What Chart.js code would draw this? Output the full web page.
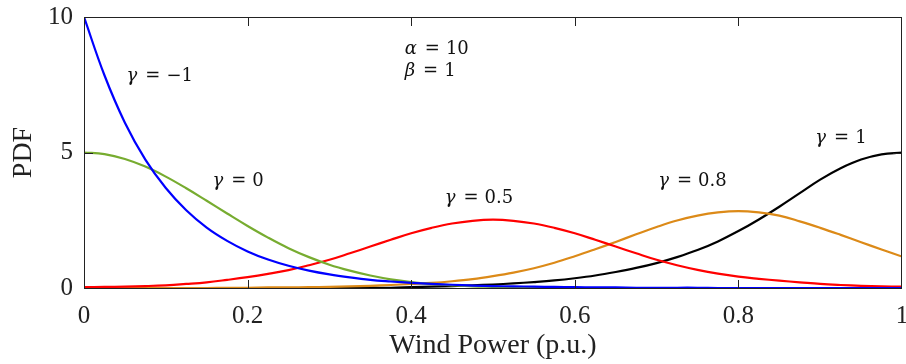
<!DOCTYPE html>
<html>
<head>
<meta charset="utf-8">
<script src="https://cdn.jsdelivr.net/npm/chart.js@4/dist/chart.umd.min.js"></script>
<style>
  html, body { margin: 0; padding: 0; background: #fff; }
  #wrap { position: relative; width: 906px; height: 364px; }
  canvas { display: block; }
  .edge { position: absolute; background: #222222; pointer-events: none; }
</style>
</head>
<body>
<div id="wrap"><canvas id="c" width="906" height="364"></canvas></div>
<script>
// Wind power (p.u.) sample positions
const windPower = [
  0, 0.025, 0.05, 0.075, 0.1, 0.125, 0.15, 0.175, 0.2, 0.225,
  0.25, 0.275, 0.3, 0.325, 0.35, 0.375, 0.4, 0.425, 0.45, 0.475,
  0.5, 0.525, 0.55, 0.575, 0.6, 0.625, 0.65, 0.675, 0.7, 0.725,
  0.75, 0.775, 0.8, 0.825, 0.85, 0.875, 0.9, 0.925, 0.95, 0.975, 1
];

// PDF values for each gamma
const pdfGammaMinus1 = [
  10.00, 7.85, 6.10, 4.74, 3.69, 2.87, 2.23, 1.74, 1.35, 1.05,
  0.82, 0.64, 0.50, 0.39, 0.30, 0.24, 0.19, 0.15, 0.12, 0.09,
  0.07, 0.06, 0.05, 0.04, 0.03, 0.02, 0.02, 0.01, 0.01, 0.01,
  0.01, 0.00, 0.00, 0.00, 0.00, 0.00, 0.00, 0.00, 0.00, 0.00, 0.00
];
const pdfGamma0 = [
  5.00, 4.94, 4.76, 4.48, 4.11, 3.68, 3.22, 2.75, 2.29, 1.86,
  1.47, 1.14, 0.86, 0.64, 0.46, 0.32, 0.22, 0.15, 0.10, 0.06,
  0.04, 0.02, 0.01, 0.01, 0.00, 0.00, 0.00, 0.00, 0.00, 0.00,
  0.00, 0.00, 0.00, 0.00, 0.00, 0.00, 0.00, 0.00, 0.00, 0.00, 0.00
];
const pdfGamma05 = [
  0.03, 0.04, 0.05, 0.07, 0.10, 0.15, 0.21, 0.30, 0.40, 0.52,
  0.66, 0.84, 1.04, 1.28, 1.53, 1.78, 2.02, 2.22, 2.38, 2.48,
  2.52, 2.48, 2.38, 2.22, 2.02, 1.78, 1.53, 1.28, 1.04, 0.84,
  0.67, 0.53, 0.42, 0.34, 0.27, 0.21, 0.15, 0.11, 0.08, 0.06, 0.05
];
const pdfGamma08 = [
  0.00, 0.00, 0.00, 0.00, 0.00, 0.00, 0.00, 0.01, 0.01, 0.02,
  0.02, 0.03, 0.04, 0.06, 0.08, 0.11, 0.15, 0.19, 0.25, 0.33,
  0.44, 0.57, 0.73, 0.93, 1.17, 1.43, 1.70, 1.98, 2.25, 2.49,
  2.67, 2.79, 2.84, 2.79, 2.67, 2.46, 2.22, 1.96, 1.69, 1.42, 1.16
];
const pdfGamma1 = [
  0.00, 0.00, 0.00, 0.00, 0.00, 0.00, 0.00, 0.00, 0.00, 0.00,
  0.00, 0.00, 0.00, 0.00, 0.01, 0.01, 0.03, 0.05, 0.07, 0.10,
  0.13, 0.17, 0.22, 0.28, 0.36, 0.46, 0.59, 0.74, 0.92, 1.14,
  1.40, 1.72, 2.10, 2.53, 3.00, 3.50, 4.00, 4.42, 4.74, 4.93, 5.00
];

// Axis ticks
const xTicks = [0, 0.2, 0.4, 0.6, 0.8, 1];
const yTicks = [0, 5, 10];

// Curve annotations: [symbol, value, x anchor, y anchor] in data units
const annotations = [
  ['γ', '\u22121', 0.052, 7.8],
  ['γ', '0', 0.157, 3.93],
  ['γ', '0.5', 0.441, 3.32],
  ['γ', '0.8', 0.702, 3.93],
  ['γ', '1', 0.894, 5.53],
  ['α', '10', 0.392, 8.79],
  ['β', '1', 0.392, 7.99]
];

const axisColor = '#222222';
const pts = (ys) => windPower.map((x, i) => ({ x, y: ys[i] }));

const series = [
  { label: 'γ = −1', data: pdfGammaMinus1, color: '#0000FF' },
  { label: 'γ = 0', data: pdfGamma0, color: '#77AC30' },
  { label: 'γ = 0.5', data: pdfGamma05, color: '#FF0000' },
  { label: 'γ = 0.8', data: pdfGamma08, color: '#DC8A18' },
  { label: 'γ = 1', data: pdfGamma1, color: '#000000' }
];

function drawAnnotations(chart) {
  const ctx = chart.ctx;
  const xs = chart.scales.x, ys = chart.scales.y;
  const size = 18;
  ctx.save();
  ctx.fillStyle = '#111';
  ctx.textBaseline = 'middle';
  ctx.textAlign = 'left';
  for (const [sym, val, ax, ay] of annotations) {
    let px = xs.getPixelForValue(ax);
    const py = ys.getPixelForValue(ay);
    ctx.font = 'italic ' + size + 'px "DejaVu Serif"';
    ctx.fillText(sym, px, py);
    px += ctx.measureText(sym).width + 8;
    ctx.font = size + 'px "DejaVu Serif"';
    ctx.fillText('=', px, py);
    px += ctx.measureText('=').width + 6;
    ctx.fillText(val, px, py);
  }
  ctx.restore();
}

// Edges of the plot box and the inward tick marks, in pixels from the axes
function boxGeometry(chart) {
  const xs = chart.scales.x, ys = chart.scales.y;
  const L = Math.round(xs.getPixelForValue(xTicks[0]));
  const R = Math.round(xs.getPixelForValue(xTicks[xTicks.length - 1])) - 1;
  const T = Math.round(ys.getPixelForValue(yTicks[yTicks.length - 1]));
  const B = Math.round(ys.getPixelForValue(yTicks[0]));
  const len = 8;
  const rects = [
    [L, T, R - L + 1, 1], [L, B, R - L + 1, 1],
    [L, T, 1, B - T + 1], [R, T, 1, B - T + 1]
  ];
  for (const v of xTicks) {
    const px = Math.min(R, Math.round(xs.getPixelForValue(v)));
    rects.push([px, B - len, 1, len], [px, T + 1, 1, len]);
  }
  for (const v of yTicks) {
    const py = Math.min(B, Math.round(ys.getPixelForValue(v)));
    rects.push([L + 1, py, len, 1], [R - len, py, len, 1]);
  }
  return rects;
}

const plotDecor = {
  id: 'plotDecor',
  afterDraw(chart) {
    const ctx = chart.ctx;
    ctx.save();
    ctx.fillStyle = axisColor;
    for (const [x, y, w, h] of boxGeometry(chart)) ctx.fillRect(x, y, w, h);
    ctx.restore();
    drawAnnotations(chart);
  }
};

const serifFont = (size) => ({ family: '"Liberation Serif"', size });

const chart = new Chart(document.getElementById('c'), {
  type: 'line',
  data: {
    datasets: series.map((s, i) => ({
      label: s.label,
      data: pts(s.data),
      borderColor: s.color,
      backgroundColor: s.color,
      borderWidth: 2.2,
      pointRadius: 0,
      tension: 0.4,
      fill: false,
      order: i
    }))
  },
  options: {
    responsive: false,
    animation: false,
    devicePixelRatio: 1,
    layout: { padding: { left: 0, right: 4, top: 17, bottom: 0 } },
    plugins: { legend: { display: false }, tooltip: { enabled: false } },
    scales: {
      x: {
        type: 'linear', position: 'bottom',
        min: 0, max: 1,
        grid: { display: false, drawTicks: false },
        border: { display: false },
        afterBuildTicks(scale) { scale.ticks = xTicks.map(v => ({ value: v })); },
        afterFit(scale) {
          scale.height = 76;
          scale.paddingLeft = 0; scale.paddingRight = 0;
        },
        ticks: {
          autoSkip: false, maxRotation: 0, padding: 13,
          color: axisColor, font: serifFont(25),
          callback: (v) => String(v)
        },
        title: {
          display: true, text: 'Wind Power (p.u.)', color: axisColor,
          font: serifFont(28),
          padding: { top: 0, bottom: 2 }
        }
      },
      y: {
        type: 'linear', position: 'left',
        min: 0, max: 10,
        grid: { display: false, drawTicks: false },
        border: { display: false },
        afterBuildTicks(scale) { scale.ticks = yTicks.map(v => ({ value: v })); },
        afterFit(scale) {
          scale.width = 84;
          scale.paddingTop = 0; scale.paddingBottom = 0;
        },
        ticks: {
          padding: 11,
          color: axisColor, font: serifFont(25),
          callback: (v) => String(v)
        },
        title: {
          display: true, text: 'PDF', color: axisColor,
          font: serifFont(28),
          padding: { top: 7, bottom: 0 }
        }
      }
    }
  },
  plugins: [plotDecor]
});

// Same box edges as thin page elements laid over the canvas
try {
  const wrap = document.getElementById('wrap');
  for (const [x, y, w, h] of boxGeometry(chart)) {
    const d = document.createElement('div');
    d.className = 'edge';
    d.style.left = x + 'px';
    d.style.top = y + 'px';
    d.style.width = w + 'px';
    d.style.height = h + 'px';
    wrap.appendChild(d);
  }
} catch (e) { /* canvas box above still stands */ }
</script>
</body>
</html>
